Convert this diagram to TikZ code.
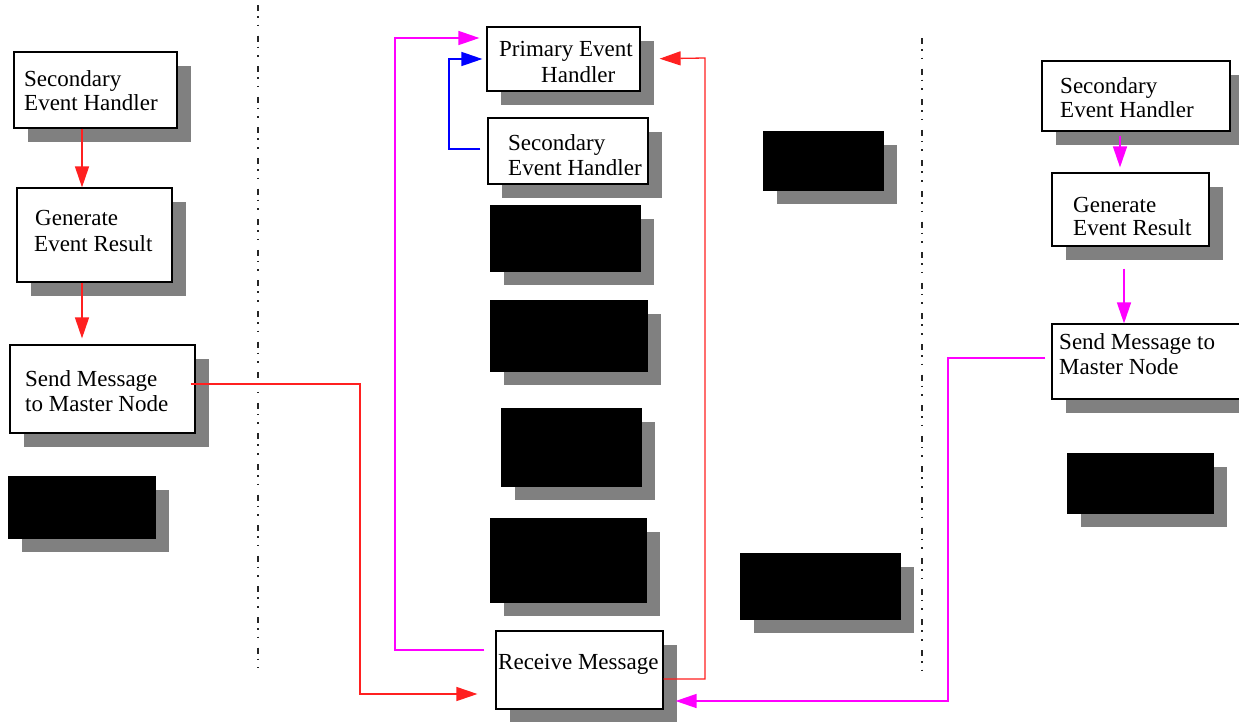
\documentclass[tikz,border=0pt]{standalone}
\usepackage{fontspec}
\setmainfont{Liberation Serif}
\usetikzlibrary{fit,shadows,arrows.meta}

\definecolor{shadowgray}{HTML}{808080}
\definecolor{linkred}{HTML}{FF2020}
\definecolor{linkmag}{HTML}{FF00FF}
\definecolor{linkblue}{HTML}{0000FF}

\tikzset{
  shade box/.style={drop shadow={shadow xshift=14pt,shadow yshift=-14pt,fill=shadowgray,opacity=1}},
  box/.style={shade box,draw=black,line width=1.2pt,fill=white,inner sep=0pt},
  blackbox/.style={shade box,draw=black,fill=black,inner sep=0pt},
  lbl/.style={inner sep=0pt,anchor=base west,font=\fontsize{23}{25}\selectfont},
  tip/.style={-{Triangle[length=21pt,width=14pt]}},
  redlink/.style={tip,draw=linkred,line width=1.3pt},
  maglink/.style={tip,draw=linkmag,line width=1.5pt},
  bluelink/.style={tip,draw=linkblue,line width=1.5pt},
  divider/.style={draw=black!85,line width=1.6pt,dash pattern=on 6pt off 5pt on 1.6pt off 7pt on 1.6pt off 9.4pt}
}

\begin{document}
\begin{tikzpicture}[x=1pt,y=-1pt]
\useasboundingbox[fill=white] (0,0) rectangle (1239,721);

% lane dividers
\draw[divider] (258,5) -- (258,668);
\draw[divider] (922,38) -- (922,680);

% left lane
\node[box,fit={(14,52) (177,128)}] (lseh) {};
\node[lbl] (lseh1) at (24,86) {Secondary};
\node[lbl] (lseh2) at (24,110) {Event Handler};
\node[box,fit={(17,188) (172,282)}] (lger) {};
\node[lbl] (lger1) at (35,225) {Generate};
\node[lbl] (lger2) at (34,251) {Event Result};
\node[box,fit={(10,345) (195,433)}] (lsm) {};
\node[lbl] (lsm1) at (25,386) {Send Message};
\node[lbl] (lsm2) at (25,411) {to Master Node};
\node[blackbox,fit={(8,476) (155,538)}] (lblk) {};

% middle lane
\node[box,fit={(487,27) (640,91)}] (peh) {};
\node[lbl] (peh1) at (499,56) {Primary Event};
\node[lbl] (peh2) at (541,82) {Handler};
\node[box,fit={(488,118) (648,184)}] (mseh) {};
\node[lbl] (mseh1) at (508,150) {Secondary};
\node[lbl] (mseh2) at (508,175) {Event Handler};
\node[blackbox,fit={(490,205) (640,271)}] (mblk1) {};
\node[blackbox,fit={(490,300) (647,371)}] (mblk2) {};
\node[blackbox,fit={(501,408) (641,486)}] (mblk3) {};
\node[blackbox,fit={(490,518) (646,602)}] (mblk4) {};
\node[box,fit={(496,631) (663,709)}] (rm) {};
\node[lbl] (rm1) at (498,669) {Receive Message};

% black boxes between middle lane and right divider
\node[blackbox,fit={(763,131) (883,190)}] (cblk1) {};
\node[blackbox,fit={(740,553) (900,619)}] (cblk2) {};

% right lane
\node[box,fit={(1042,61) (1230,131)}] (rseh) {};
\node[lbl] (rseh1) at (1060,93) {Secondary};
\node[lbl] (rseh2) at (1060,117) {Event Handler};
\node[box,fit={(1052,173) (1209,246)}] (rger) {};
\node[lbl] (rger1) at (1073,212) {Generate};
\node[lbl] (rger2) at (1073,235) {Event Result};
\node[box,fit={(1052,324) (1290,399)}] (rsm) {};
\node[lbl] (rsm1) at (1059,349) {Send Message to};
\node[lbl] (rsm2) at (1059,374) {Master Node};
\node[blackbox,fit={(1067,453) (1213,513)}] (rblk) {};

% bend points of the routed links
\coordinate (redbend) at (360,384);
\coordinate (magbend) at (395,38);
\coordinate (bluebend) at (449,149);
\coordinate (retbend) at (705,58);
\coordinate (rmagbend) at (948,701);

% left lane flow
\draw[redlink] ([xshift=-13.5pt]lseh.south) -- ([xshift=-12.5pt]lger.north);
\draw[redlink] ([xshift=-12.5pt]lger.south) -- ([xshift=-20.5pt,yshift=6pt]lsm.north);
\draw[redlink,shorten >=18pt] ([xshift=-5pt,yshift=5pt]lsm.east) -- (redbend) |- ([yshift=-24pt]rm.west);

% middle lane links
\draw[maglink,shorten >=7pt] ([xshift=-11pt,yshift=20pt]rm.west) -| (magbend) -- ([yshift=21pt]peh.west);
\draw[bluelink,shorten <=7pt,shorten >=4pt] ([yshift=2pt]mseh.west) -- (bluebend) |- (peh.west);
\draw[redlink,shorten >=19pt] ([yshift=-9pt]rm.east) -| (retbend) -- (peh.east);

% right lane flow
\draw[maglink,shorten <=4pt,shorten >=5pt] ([xshift=-16pt]rseh.south) -- ([xshift=-10.5pt]rger.north);
\draw[maglink,shorten <=22pt] ([xshift=-6.5pt]rger.south) -- ([xshift=-47pt]rsm.north);
\draw[maglink,shorten >=12pt] ([xshift=-6pt,yshift=3.5pt]rsm.west) -| (rmagbend) -- ([yshift=-31pt]rm.east);
\end{tikzpicture}
\end{document}
